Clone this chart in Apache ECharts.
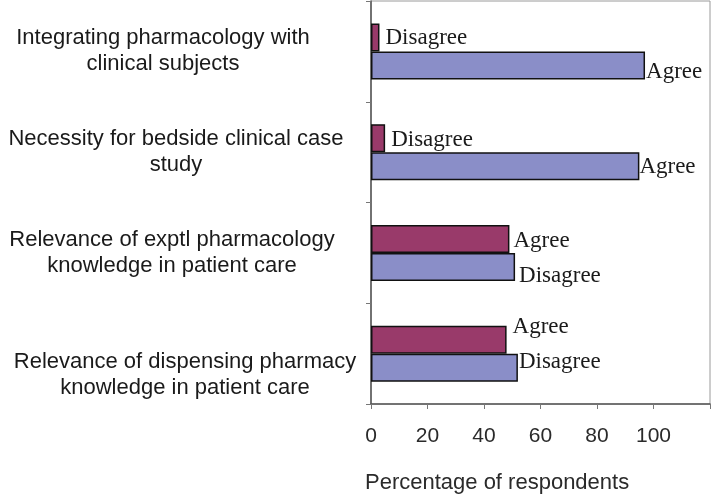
<!DOCTYPE html>
<html>
<head>
<meta charset="utf-8">
<script src="https://cdn.jsdelivr.net/npm/echarts@6/dist/echarts.min.js"></script>
<style>html,body{margin:0;padding:0;background:#fff}#c{width:711px;height:495px}</style>
</head>
<body>
<div id="c"></div>
<script>
const categories = [
  "Integrating pharmacology with\nclinical subjects",
  "Necessity for bedside clinical case\nstudy",
  "Relevance of exptl pharmacology\nknowledge in patient care",
  "Relevance of dispensing pharmacy\nknowledge in patient care"
];
const upperValues = [3, 5, 49, 48];
const upperLabels = ["Disagree", "Disagree", "Agree", "Agree"];
const lowerValues = [97, 95, 51, 52];
const lowerLabels = ["Agree", "Agree", "Disagree", "Disagree"];
const xTicks = [0, 20, 40, 60, 80, 100];

// style-only offsets for the bar labels (px)
const upperShift = [[2, 1], [2, 2], [0, 2], [2, -13]];
const lowerShift = [[-3, 7], [-4, 1], [0, 9], [-3, -6]];
// style-only paddings for category labels [top, right, bottom, left]
const catPad = [[0, 24, 0, 0], [0, 0, 0, 2], [0, 6, 0, 0], [42, 0, 0, 20]];

const serif = "Liberation Serif";
const sans = "Liberation Sans";

function buildData(vals, labels, shifts) {
  return vals.map((v, i) => ({
    value: v,
    label: { formatter: labels[i], offset: shifts[i] }
  }));
}

const rich = {};
catPad.forEach((p, i) => {
  rich['c' + i] = { fontFamily: sans, fontSize: 22, color: '#1a1a1a', lineHeight: 26, padding: p };
});

const chart = echarts.init(document.getElementById('c'), null, { renderer: 'canvas' });
chart.setOption({
  animation: false,
  title: {
    text: "Percentage of respondents",
    left: 360, top: 467,
    textStyle: { fontFamily: sans, fontSize: 22, fontWeight: 'normal', color: '#2a2a2a' }
  },
  grid: {
    left: 371, right: 1, top: 1, bottom: 91, containLabel: false, outerBoundsMode: 'none',
    show: true, borderColor: '#9a9a9a', borderWidth: 1
  },
  xAxis: {
    type: 'value', min: 0, max: 120, interval: 20,
    axisLine: { show: true, lineStyle: { color: '#555', width: 1.5 } },
    axisTick: { show: true, length: 5, lineStyle: { color: '#777' } },
    splitLine: { show: false },
    axisLabel: {
      margin: 22, fontFamily: sans, fontSize: 21, color: '#2a2a2a',
      formatter: v => xTicks.includes(v) ? String(v) : ''
    }
  },
  yAxis: {
    type: 'category', data: categories, inverse: true,
    axisLine: { show: true, lineStyle: { color: '#555', width: 1.5 } },
    axisTick: { show: true, length: 5, lineStyle: { color: '#777' } },
    axisLabel: {
      align: 'center', margin: 196, fontFamily: sans, fontSize: 22, color: '#1a1a1a', lineHeight: 26,
      formatter: (v, i) => v.split('\n').map(s => '{c' + i + '|' + s + '}').join('\n'),
      rich: rich
    }
  },
  series: [
    {
      type: 'bar', name: 'upper', data: buildData(upperValues, upperLabels, upperShift),
      barWidth: 28, barGap: '0%',
      itemStyle: { color: '#993a6a', borderColor: '#111', borderWidth: 1.5 },
      label: { show: true, position: 'right', distance: 4, fontFamily: serif, fontSize: 23, color: '#1a1a1a' }
    },
    {
      type: 'bar', name: 'lower', data: buildData(lowerValues, lowerLabels, lowerShift),
      barWidth: 28, barGap: '0%',
      itemStyle: { color: '#8a8ec8', borderColor: '#111', borderWidth: 1.5 },
      label: { show: true, position: 'right', distance: 4, fontFamily: serif, fontSize: 23, color: '#1a1a1a' }
    }
  ]
});
</script>
</body>
</html>
